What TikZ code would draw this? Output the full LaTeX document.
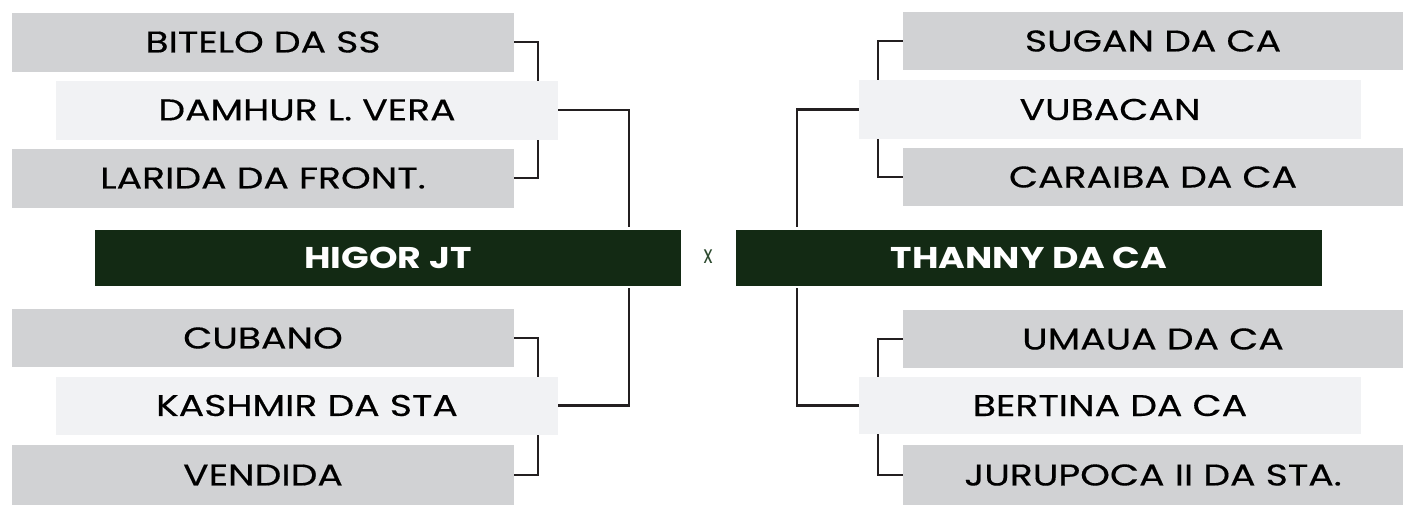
\documentclass[tikz,border=0pt]{standalone}
\usepackage{fontspec}
\setmainfont{Poppins}
\newfontfamily\teamfont{Poppins}[FakeStretch=1.26, FakeBold=0.4]
\newfontfamily\champfont{Poppins}[FakeStretch=1.21]
\newfontfamily\vsfont{Poppins}[FakeStretch=0.75]
\usetikzlibrary{backgrounds,calc}
\definecolor{boxgray}{HTML}{D1D2D4}
\definecolor{boxlight}{HTML}{F1F2F4}
\definecolor{darkgreen}{HTML}{132A14}
\definecolor{vsgreen}{HTML}{2E4B30}
\definecolor{linec}{HTML}{231F20}
\tikzset{
  team/.style={fill=boxgray, minimum width=502pt, minimum height=59pt, inner sep=0pt, font=\teamfont\fontsize{30}{32}\selectfont, text=black},
  mid/.style={team, fill=boxlight},
  champ/.style={fill=darkgreen, minimum width=586pt, minimum height=56pt, inner sep=0pt, font=\champfont\bfseries\fontsize{30}{32}\selectfont, text=white},
  conn/.style={draw=linec, line width=2.4pt},
}
\begin{document}
\begin{tikzpicture}[x=1pt,y=-1pt]
\useasboundingbox (0,0) rectangle (1415,517);
% left
\node[team] (bit) at (263,42) {BITELO DA SS};
\node[mid]  (dam) at (307,110) {DAMHUR L. VERA};
\node[team] (lar) at (263,178) {LARIDA DA FRONT.};
\node[champ] (hig) at (388,258) {HIGOR JT};
\node[team, minimum height=58pt] (cub) at (263,338) {CUBANO};
\node[mid, minimum height=58pt] (kas) at (307,405.5) {KASHMIR DA STA};
\node[team, minimum height=60pt] (ven) at (263,475) {VENDIDA};
% right
\node[team, minimum width=500pt, minimum height=58pt] (sug) at (1153,41) {SUGAN DA CA};
\node[mid] (vub) at (1110,109.5) {VUBACAN};
\node[team, minimum width=500pt, minimum height=58pt] (car) at (1153,177) {CARAIBA DA CA};
\node[champ] (tha) at (1029,258) {THANNY DA CA};
\node[team, minimum width=500pt, minimum height=58pt] (uma) at (1153,339) {UMAUA DA CA};
\node[mid, minimum height=57pt] (ber) at (1110,405.5) {BERTINA DA CA};
\node[team, minimum width=500pt, minimum height=60pt] (jur) at (1153,475) {JURUPOCA II DA STA.};
% x
\node[text=vsgreen, font=\vsfont\fontsize{25}{26}\selectfont, inner sep=0pt] (vs) at (708,257) {x};
\begin{pgfonlayer}{background}
\draw[conn] (bit.east) -- ++(24,0) |- (lar.east);
\draw[conn] (cub.east) -- ++(24,0) |- (ven.east);
\draw[conn] (dam.east) -| ($(hig.north east)+(-52,-3)$);
\draw[conn] (kas.east) -| ($(hig.south east)+(-52,2)$);
\draw[conn] (sug.west) -- ++(-25,0) |- (car.west);
\draw[conn] (uma.west) -- ++(-25,0) |- (jur.west);
\draw[conn] (vub.west) -| ($(tha.north west)+(61,-3)$);
\draw[conn] (ber.west) -| ($(tha.south west)+(61,2)$);
\end{pgfonlayer}
\end{tikzpicture}
\end{document}
